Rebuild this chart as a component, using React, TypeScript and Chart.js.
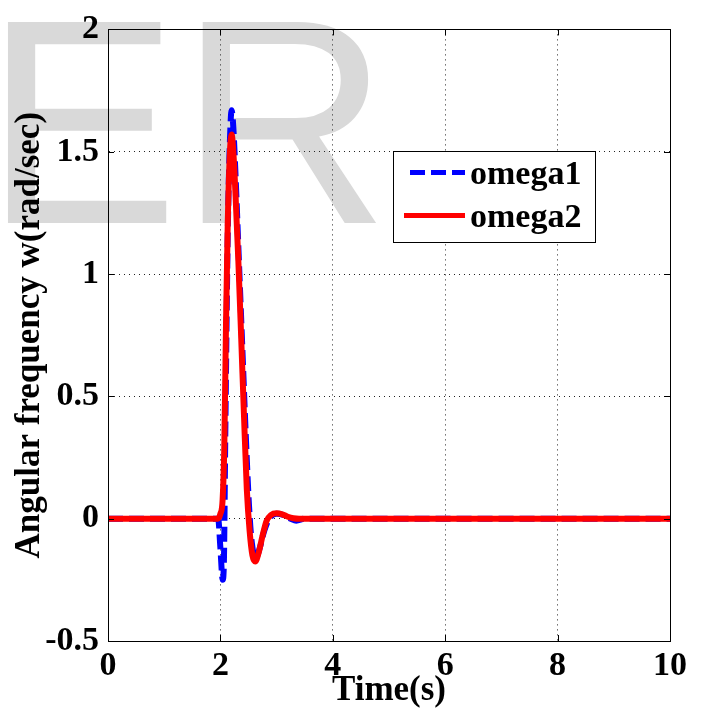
import React, { useEffect, useRef } from "react";
import { Chart, registerables } from "chart.js";

Chart.register(...registerables);

// ---- Data ----
const timeOmega1 = [0, 1.96, 2.0, 2.04, 2.06, 2.09, 2.13, 2.17, 2.2, 2.23, 2.27, 2.33, 2.39, 2.45, 2.51, 2.56, 2.63, 2.7, 2.78, 2.87, 3.0, 3.12, 3.25, 3.35, 3.5, 10];
const omega1 = [0, 0, -0.12, -0.25, -0.2, 0.4, 1.15, 1.55, 1.67, 1.6, 1.4, 1.05, 0.7, 0.35, 0.05, -0.1, -0.16, -0.12, -0.05, 0.0, 0.02, 0.015, 0.0, -0.008, 0, 0];

const timeOmega2 = [0, 1.95, 2.0, 2.04, 2.07, 2.1, 2.13, 2.17, 2.2, 2.23, 2.27, 2.32, 2.37, 2.42, 2.47, 2.52, 2.57, 2.62, 2.68, 2.75, 2.82, 2.9, 3.0, 3.1, 3.2, 3.3, 3.4, 10];
const omega2 = [0, 0, 0.02, 0.08, 0.3, 0.8, 1.2, 1.5, 1.57, 1.5, 1.32, 1.05, 0.74, 0.42, 0.12, -0.05, -0.15, -0.175, -0.14, -0.07, -0.01, 0.015, 0.022, 0.018, 0.008, 0.002, 0, 0];

const seriesLabels = ["omega1", "omega2"];
const xTicks = [0, 2, 4, 6, 8, 10];
const yTicks = [-0.5, 0, 0.5, 1, 1.5, 2];
const xTitle = "Time(s)";
const yTitle = "Angular frequency w(rad/sec)";
const watermark = "ER";

const SERIF = "Liberation Serif";

const watermarkPlugin = {
  id: "watermark",
  beforeDraw(chart: any) {
    const ctx = chart.ctx;
    ctx.save();
    ctx.fillStyle = "#ffffff";
    ctx.fillRect(0, 0, chart.width, chart.height);
    ctx.fillStyle = "#d9d9d9";
    ctx.font = "292px Liberation Sans";
    ctx.textBaseline = "alphabetic";
    ctx.textAlign = "left";
    ctx.fillText(watermark, -16, 223);
    ctx.restore();
  },
};

const framePlugin = {
  id: "frame",
  afterDatasetsDraw(chart: any) {
    const { ctx, chartArea, scales } = chart;
    const { left, top, right, bottom } = chartArea;
    ctx.save();
    ctx.strokeStyle = "#000";
    ctx.lineWidth = 1;
    ctx.setLineDash([]);
    ctx.strokeRect(Math.round(left) + 0.5, Math.round(top) + 0.5, Math.round(right - left), Math.round(bottom - top));
    // inward tick marks on all sides
    const tl = 6;
    ctx.beginPath();
    xTicks.forEach((v) => {
      const px = Math.round(scales.x.getPixelForValue(v)) + 0.5;
      ctx.moveTo(px, bottom);
      ctx.lineTo(px, bottom - tl);
      ctx.moveTo(px, top);
      ctx.lineTo(px, top + tl);
    });
    yTicks.forEach((v) => {
      const py = Math.round(scales.y.getPixelForValue(v)) + 0.5;
      ctx.moveTo(left, py);
      ctx.lineTo(left + tl, py);
      ctx.moveTo(right, py);
      ctx.lineTo(right - tl, py);
    });
    ctx.stroke();
    // legend
    const bx = left + 285;
    const by = top + 122;
    const bw = 202;
    const bh = 91;
    ctx.fillStyle = "#fff";
    ctx.fillRect(bx, by, bw, bh);
    ctx.strokeRect(Math.round(bx) + 0.5, Math.round(by) + 0.5, bw, bh);
    const ds = chart.data.datasets;
    const order = [1, 0];
    const rows = [
      { y: by + 21, x0: bx + 17, x1: bx + 72 },
      { y: by + 64, x0: bx + 11, x1: bx + 72 },
    ];
    order.forEach((di, i) => {
      const d = ds[di];
      const r = rows[i];
      ctx.beginPath();
      ctx.strokeStyle = d.borderColor;
      ctx.lineWidth = 5;
      ctx.setLineDash(d.borderDash || []);
      ctx.moveTo(r.x0, r.y);
      ctx.lineTo(r.x1, r.y);
      ctx.stroke();
      ctx.setLineDash([]);
      ctx.fillStyle = "#000";
      ctx.font = `bold 34px ${SERIF}`;
      ctx.textAlign = "left";
      ctx.textBaseline = "alphabetic";
      ctx.fillText(d.label, bx + 77, r.y + 12);
    });
    ctx.restore();
  },
};

export default function App() {
  const canvasRef = useRef<HTMLCanvasElement | null>(null);

  useEffect(() => {
    const canvas = canvasRef.current;
    if (!canvas) return;
    const gridStyle = {
      color: "#222",
      lineWidth: 1,
      drawTicks: false,
    };
    const chart = new Chart(canvas, {
      type: "line",
      data: {
        datasets: [
          {
            label: seriesLabels[1],
            data: timeOmega2.map((t, i) => ({ x: t, y: omega2[i] })),
            borderColor: "#ff0000",
            backgroundColor: "#ff0000",
            borderWidth: 6,
            pointRadius: 0,
            cubicInterpolationMode: "monotone",
            order: 0,
          },
          {
            label: seriesLabels[0],
            data: timeOmega1.map((t, i) => ({ x: t, y: omega1[i] })),
            borderColor: "#0000ff",
            backgroundColor: "#0000ff",
            borderWidth: 6,
            borderDash: [15, 6],
            pointRadius: 0,
            cubicInterpolationMode: "monotone",
            order: 1,
          },
        ],
      },
      options: {
        responsive: false,
        animation: false,
        events: [],
        layout: { padding: { left: 0, top: 22, right: 34, bottom: 0 } },
        plugins: {
          legend: { display: false },
          tooltip: { enabled: false },
        },
        scales: {
          x: {
            type: "linear",
            min: 0,
            max: 10,
            afterBuildTicks: (scale: any) => {
              scale.ticks = xTicks.map((v) => ({ value: v }));
            },
            afterFit: (scale: any) => {
              scale.height = 69;
            },
            grid: { ...gridStyle },
            border: { display: true, color: "#000", width: 1, dash: [1, 4] },
            ticks: {
              color: "#000",
              padding: 5,
              maxRotation: 0,
              callback: (v: any) => String(Number(v)),
              font: { family: SERIF, size: 34, weight: "bold", lineHeight: 1.2 },
            },
            title: {
              display: true,
              text: xTitle,
              color: "#000",
              padding: { top: 0, bottom: 1.5 },
              font: { family: SERIF, size: 35, weight: "bold", lineHeight: 1.0 },
            },
          },
          y: {
            type: "linear",
            min: -0.5,
            max: 2,
            afterBuildTicks: (scale: any) => {
              scale.ticks = yTicks.map((v) => ({ value: v }));
            },
            afterFit: (scale: any) => {
              scale.width = 108;
            },
            grid: { ...gridStyle },
            border: { display: true, color: "#000", width: 1, dash: [1, 4] },
            ticks: {
              color: "#000",
              padding: 9,
              callback: (v: any) => String(Number(v)),
              font: { family: SERIF, size: 34, weight: "bold", lineHeight: 1.2 },
            },
            title: {
              display: true,
              text: yTitle,
              color: "#000",
              padding: { top: 9, bottom: 0 },
              font: { family: SERIF, size: 35, weight: "bold", lineHeight: 1.2 },
            },
          },
        },
      } as any,
      plugins: [watermarkPlugin, framePlugin],
    });
    return () => chart.destroy();
  }, []);

  return (
    <div style={{ position: "fixed", left: 0, top: 0, width: 704, height: 710, background: "#fff" }}>
      <canvas ref={canvasRef} width={704} height={710} style={{ display: "block" }} />
    </div>
  );
}
